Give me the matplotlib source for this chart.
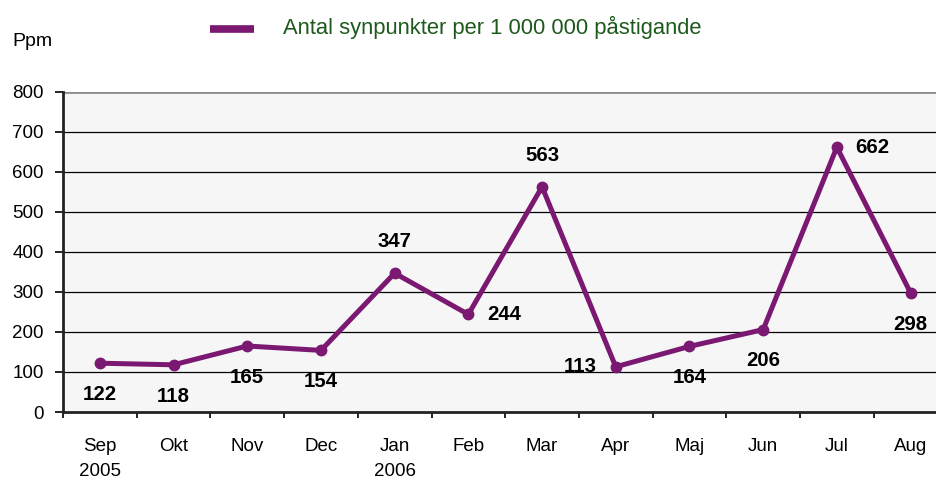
import matplotlib
matplotlib.use("Agg")
import matplotlib.pyplot as plt
import numpy as np

months = ["Sep\n2005", "Okt", "Nov", "Dec", "Jan\n2006", "Feb", "Mar", "Apr", "Maj", "Jun", "Jul", "Aug"]
values = [122, 118, 165, 154, 347, 244, 563, 113, 164, 206, 662, 298]
label_pos = ["below", "below", "below", "below", "above", "right", "above", "left", "below", "below", "right", "below"]
legend_label = "Antal synpunkter per 1 000 000 påstigande"
yticks = [0, 100, 200, 300, 400, 500, 600, 700, 800]

plt.rcParams['font.family'] = ["Liberation Sans", "DejaVu Sans"]

purple = "#7A1872"
fig = plt.figure(figsize=(9.37, 4.86), dpi=100)
W, H = 937, 486
left, right, top, bottom = 63, 937, 92, 412
unit = 73.7
ax = fig.add_axes([left / W, (H - bottom) / H, (right - left) / W, (bottom - top) / H])
ax.set_facecolor("#F6F6F6")

x = np.arange(len(values))
ax.plot(x, values, color=purple, lw=3.6, marker="o", ms=7.5, zorder=3)

ax.set_yticks(yticks)
ax.set_yticklabels([str(v) for v in yticks], fontsize=13.5)
for v in yticks[1:-1]:
    ax.axhline(v, color="black", lw=0.9, zorder=1)
ax.axhline(800, color="#8C8C8C", lw=2, zorder=1)

ax.set_xticks(x)
ax.set_xticklabels(months, fontsize=13.5, linespacing=1.55)
ax.set_xticks(np.arange(-0.5, 11.0, 1), minor=True)
ax.tick_params(axis="x", which="major", length=0, pad=19)
ax.tick_params(axis="x", which="minor", length=4.5, width=1.2, direction="out")
ax.tick_params(axis="y", length=6, width=1.2, direction="out", pad=8)

ax.set_ylim(0, 800)
ax.set_xlim(-0.5, -0.5 + (right - left) / unit)

for s in ["top", "right"]:
    ax.spines[s].set_visible(False)
for s in ["left", "bottom"]:
    ax.spines[s].set_linewidth(2)
    ax.spines[s].set_color("#222222")

offsets = {"below": (0, -22.5), "above": (0, 22.5), "right": (25.5, 0), "left": (-25.5, 0)}
for xi, v, p in zip(x, values, label_pos):
    dx, dy = offsets[p]
    ax.annotate(str(v), (xi, v), xytext=(dx, dy), textcoords="offset points",
                ha="center", va="center", fontsize=14.7, fontweight="bold",
                color="black", zorder=4)

fig.text(12 / W, 1 - 42 / H, "Ppm", fontsize=14, va="center", ha="left")
fig.add_artist(plt.Line2D([210 / W, 254 / W], [1 - 29 / H, 1 - 29 / H], color=purple, lw=5.5,
                          solid_capstyle="butt", transform=fig.transFigure))
fig.text(283 / W, 1 - 27 / H, legend_label, fontsize=15.8, color="#1E5A1E", va="center", ha="left")

fig.savefig("out.png", dpi=100)
